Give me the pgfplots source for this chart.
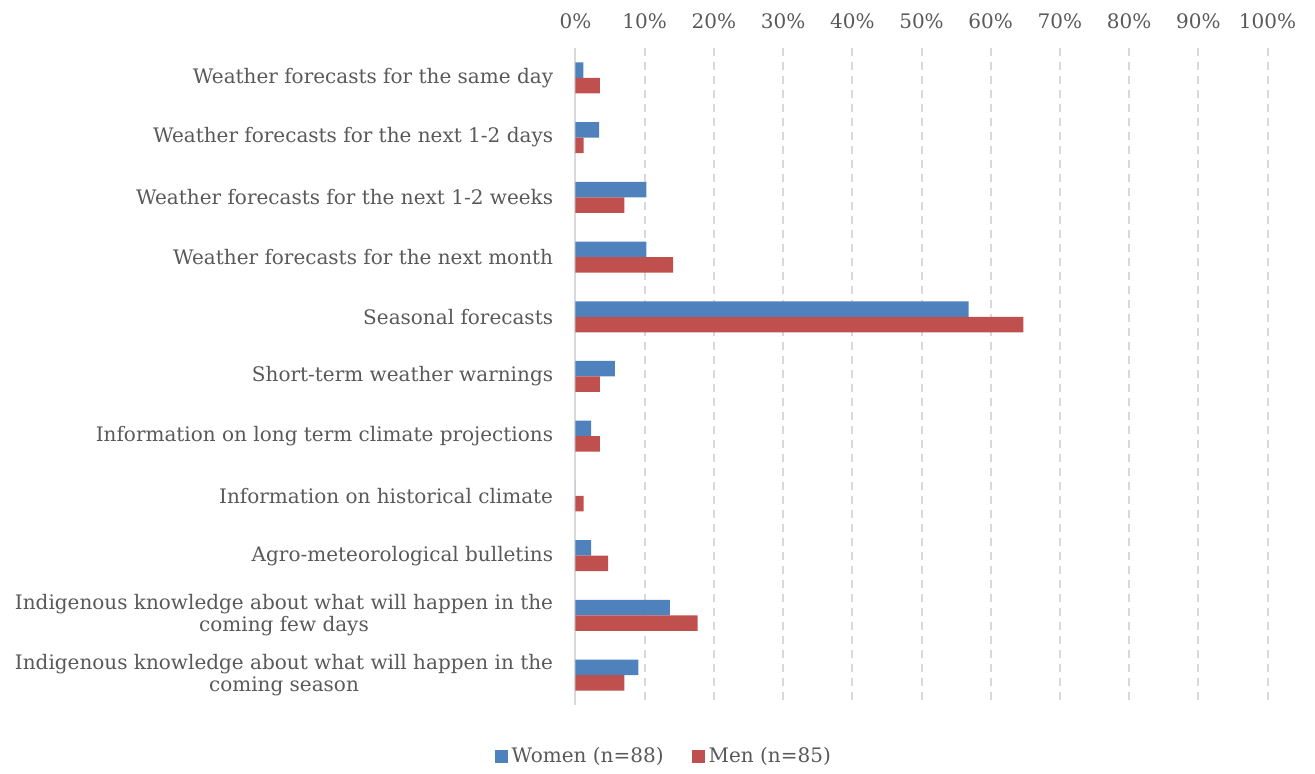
\documentclass[border=0pt]{standalone}
\usepackage{pgfplots}
\pgfplotsset{compat=1.18}
\usepackage{pgfplotstable}
\usepackage{fontspec}
\setmainfont{DejaVu Serif}

\definecolor{txt}{HTML}{595959}
\definecolor{women}{HTML}{4F81BD}
\definecolor{men}{HTML}{C0504D}
\definecolor{gridc}{HTML}{D9D9D9}

% share of respondents (%) per information type; row index = category
\pgfplotstableread{
row women men
0   1.14  3.53
1   3.41  1.18
2   10.23 7.06
3   10.23 14.12
4   56.82 64.71
5   5.68  3.53
6   2.27  3.53
7   0     1.18
8   2.27  4.71
9   13.64 17.65
10  9.09  7.06
}\usetable

\begin{document}
\begin{tikzpicture}
\begin{axis}[
  scale only axis, width=346pt, height=328.5pt,
  xbar=0pt, bar width=7.75pt,
  xmin=0, xmax=100, ymin=-0.5, ymax=10.5, y dir=reverse,
  font=\fontsize{10}{11}\selectfont, text=txt,
  xtick={0,10,...,100},
  xticklabels={0\%,10\%,20\%,30\%,40\%,50\%,60\%,70\%,80\%,90\%,100\%},
  xticklabel pos=upper,
  xticklabel style={inner sep=0pt, anchor=south, yshift=9.5pt, text=txt},
  ytick={0,...,10},
  yticklabels={
    Weather forecasts for the same day,
    Weather forecasts for the next 1-2 days,
    Weather forecasts for the next 1-2 weeks,
    Weather forecasts for the next month,
    Seasonal forecasts,
    Short-term weather warnings,
    Information on long term climate projections,
    Information on historical climate,
    Agro-meteorological bulletins,
    {Indigenous knowledge about what will happen in the\\coming few days},
    {Indigenous knowledge about what will happen in the\\coming season}},
  yticklabel style={inner sep=0pt, anchor=east, xshift=-11pt, align=center, text=txt},
  major tick length=0pt,
  xmajorgrids,
  grid style={draw=gridc, dash pattern=on 4pt off 3pt, line width=1pt},
  axis x line*=top, axis y line*=left,
  x axis line style={draw=none},
  y axis line style={-, draw=gridc, line width=1pt},
  clip=false,
  legend style={at={(0.129,-0.0784)}, anchor=center, draw=none, fill=none,
    legend columns=2, font=\fontsize{10}{11}\selectfont, text=txt,
    /tikz/every even column/.append style={column sep=12pt},
    inner sep=0pt, row sep=0pt},
  legend image code/.code={\fill[#1] (0pt,-3.25pt) rectangle (6.5pt,3.25pt);},
]
\addplot[fill=women, draw=none, bar shift=3.875pt] table[x=women, y=row] {\usetable};
\addlegendentry{Women (n=88)}
\addplot[fill=men, draw=none, bar shift=-3.875pt] table[x=men, y=row] {\usetable};
\addlegendentry{Men (n=85)}
% page extent around the plot area
\path (axis description cs:-0.8316,-0.1035) rectangle (axis description cs:1.0686,1.073);
\end{axis}
\end{tikzpicture}
\end{document}
